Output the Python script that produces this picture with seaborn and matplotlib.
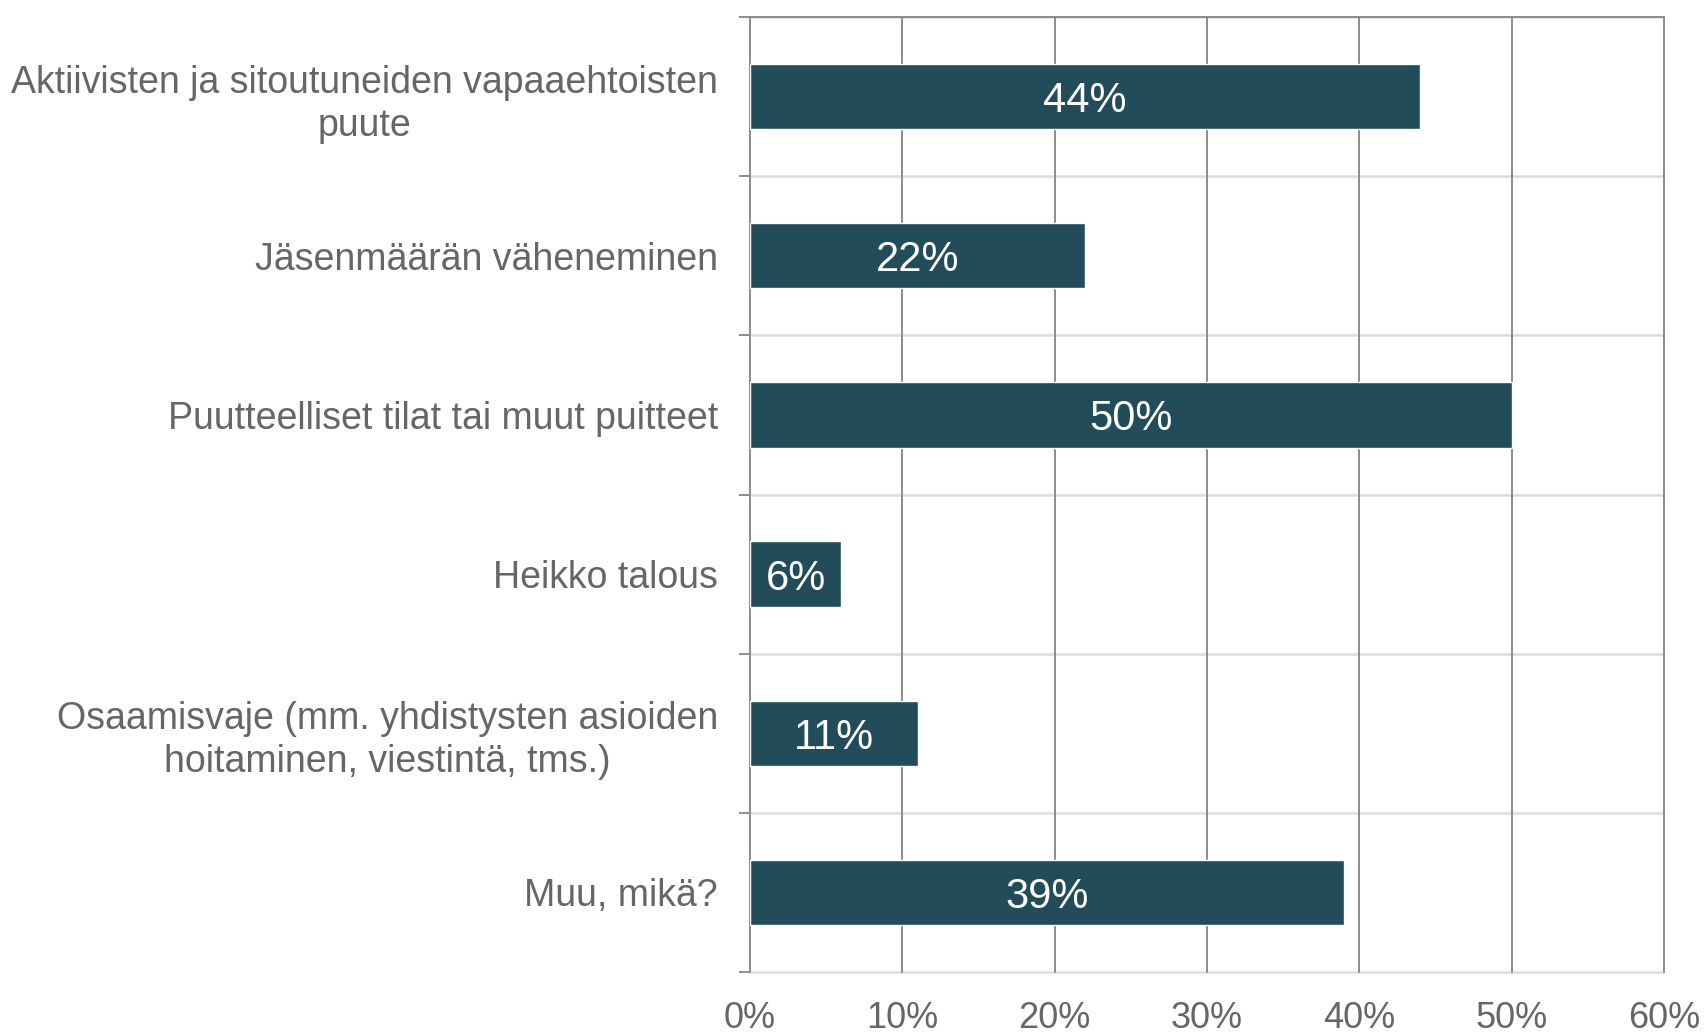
import matplotlib
matplotlib.use("Agg")
import matplotlib.pyplot as plt
import seaborn as sns
import pandas as pd
import numpy as np

# data
categories = [
    "Aktiivisten ja sitoutuneiden vapaaehtoisten\npuute",
    "Jäsenmäärän väheneminen",
    "Puutteelliset tilat tai muut puitteet",
    "Heikko talous",
    "Osaamisvaje (mm. yhdistysten asioiden\nhoitaminen, viestintä, tms.)",
    "Muu, mikä?",
]
shares = [0.44, 0.22, 0.50, 0.06, 0.11, 0.39]
bar_labels = ["44%", "22%", "50%", "6%", "11%", "39%"]
x_ticks = [0.0, 0.1, 0.2, 0.3, 0.4, 0.5, 0.6]
x_ticklabels = ["0%", "10%", "20%", "30%", "40%", "50%", "60%"]

BAR_COLOR = "#234C5A"
TEXT_COLOR = "#666666"
GRID_DARK = "#8C8C8C"
GRID_LIGHT = "#DDDDDD"

sns.set_theme(style="white")
plt.rcParams["font.family"] = ["Liberation Sans", "DejaVu Sans"]

df = pd.DataFrame({"category": categories, "share": shares})

fig = plt.figure(figsize=(17.06, 10.33), dpi=100)
ax = fig.add_axes([750 / 1706, 1 - 972 / 1033, (1664 - 750) / 1706, (972 - 17) / 1033])

sns.barplot(data=df, x="share", y="category", color=BAR_COLOR, width=0.41,
            saturation=1, ax=ax, zorder=3)

ax.set_xlim(0, 0.6)
ax.set_ylim(5.5, -0.5)

# horizontal separators between categories
for yb in np.arange(-0.5, len(categories), 1.0):
    ax.axhline(yb, color=GRID_LIGHT, lw=1.8, zorder=0, clip_on=False)
ax.axhline(-0.5, color=GRID_DARK, lw=1.4, zorder=1, clip_on=False)
# vertical grid lines
for xv in x_ticks:
    ax.axvline(xv, color=GRID_DARK, lw=1.4, zorder=1, clip_on=False)

for sp in ax.spines.values():
    sp.set_visible(False)

ax.set_xticks(x_ticks)
ax.set_xticklabels(x_ticklabels, fontsize=26, color=TEXT_COLOR)
ax.tick_params(axis="x", length=0, pad=21)

ax.set_yticks(range(len(categories)))
ax.set_yticklabels(categories, fontsize=27, color=TEXT_COLOR, ha="right",
                   multialignment="center", linespacing=1.25)
ax.tick_params(axis="y", which="major", length=0, pad=23)
ax.set_yticks(np.arange(-0.5, len(categories), 1.0), minor=True)
ax.tick_params(axis="y", which="minor", length=8, width=1.4, color=GRID_DARK,
               left=True, direction="out")

ax.set_xlabel("")
ax.set_ylabel("")

for i, (v, lab) in enumerate(zip(shares, bar_labels)):
    ax.text(v / 2, i, lab, ha="center", va="center_baseline", color="white",
            fontsize=30, zorder=4)

fig.savefig("out.png", dpi=100)
